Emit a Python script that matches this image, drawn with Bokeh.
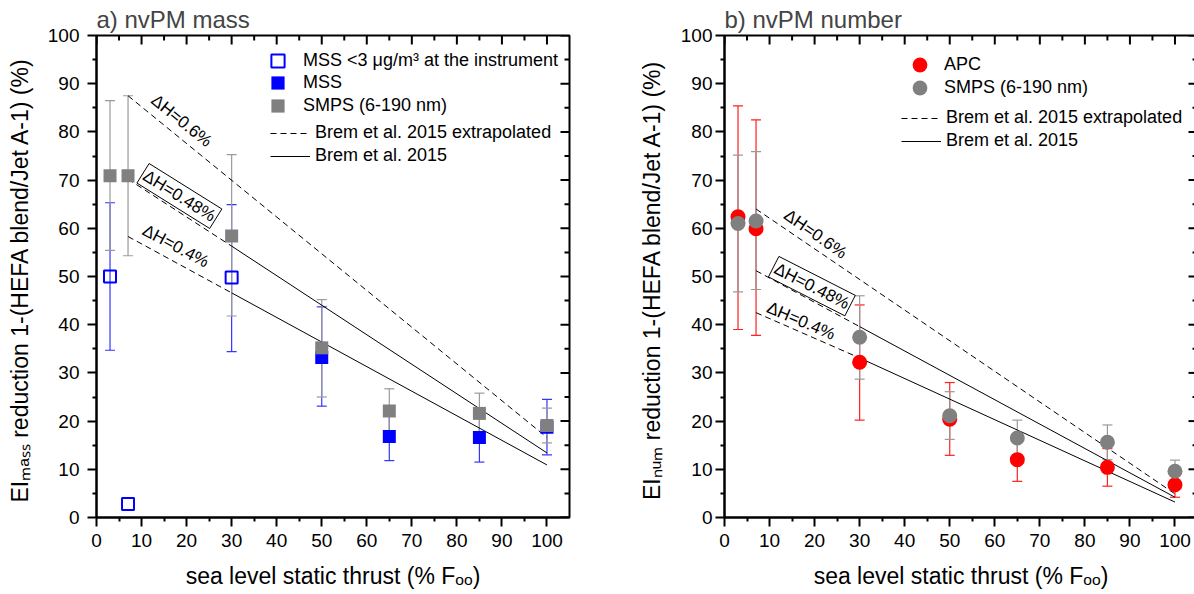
from bokeh.plotting import figure
from bokeh.models import (ColumnDataSource, Whisker, TeeHead, Legend, LegendItem, Label,
                          Range1d, FixedTicker)
from bokeh.layouts import row
from bokeh.embed import file_html
from bokeh.resources import INLINE

FONT = "Liberation Sans"

# ---------------- data ----------------
thrust = [3, 7, 30, 50, 65, 85, 100]

# panel a) nvPM mass
mss_low_x = [3, 7, 30]
mss_low_y = [50.0, 2.8, 49.8]
mss_low_up = [65.3, None, 64.9]
mss_low_lo = [34.7, None, 34.4]

mss_x = [50, 65, 85, 100]
mss_y = [33.2, 16.8, 16.6, 18.7]
mss_up = [43.7, 21.8, 21.7, 24.5]
mss_lo = [23.1, 11.8, 11.5, 13.0]

smps_mass_y = [70.9, 70.9, 58.4, 35.2, 22.1, 21.6, 19.1]
smps_mass_up = [86.5, 87.5, 75.3, 45.2, 26.7, 25.8, 22.7]
smps_mass_lo = [55.4, 54.3, 41.8, 25.0, 17.3, 17.7, 15.5]

# panel b) nvPM number
apc_y = [62.4, 59.9, 32.2, 20.4, 12.0, 10.4, 6.8]
apc_up = [85.4, 82.5, 44.1, 28.0, 16.5, 14.3, 9.4]
apc_lo = [39.0, 37.8, 20.2, 12.9, 7.5, 6.5, 4.2]

smps_num_y = [61.0, 61.5, 37.4, 21.1, 16.5, 15.6, 9.6]
smps_num_up = [75.2, 75.9, 46.0, 26.1, 20.2, 19.2, 11.9]
smps_num_lo = [46.8, 47.3, 28.7, 16.2, 13.0, 12.0, 7.5]

# Brem et al. 2015 lines (thrust 7, 30, 100)
brem_x = [7, 30, 100]
mass_dh06 = [87.5, None, 16.6]
mass_dh048 = [70.2, 56.3, 13.4]
mass_dh04 = [58.3, 46.6, 10.9]
num_dh06 = [64.0, None, 4.9]
num_dh048 = [51.2, 39.6, 4.2]
num_dh04 = [42.5, 33.1, 3.2]

dh_labels = ["ΔH=0.6%", "ΔH=0.48%", "ΔH=0.4%"]
mass_label_x = [18.9, 18.4, 17.6]
mass_label_y = [82.3, 66.7, 56.3]
num_label_x = [20.2, 19.4, 17.0]
num_label_y = [58.8, 48.0, 40.8]

X_MIN, X_MAX = 0, 105
Y_MIN, Y_MAX = 0, 100
x_ticks = list(range(0, 101, 10))
x_minor = list(range(5, 101, 10))
y_ticks = list(range(0, 101, 10))
y_minor = list(range(5, 100, 10))

# ---------------- helpers ----------------
FRAME_W = 473
FRAME_H = 482


def base_fig(title, ylabel, left_border, right_border, tick_standoff, label_standoff):
    p = figure(frame_width=FRAME_W, frame_height=FRAME_H,
               x_range=Range1d(X_MIN, X_MAX), y_range=Range1d(Y_MIN, Y_MAX),
               output_backend="svg", toolbar_location=None,
               min_border_left=left_border, min_border_right=right_border,
               min_border_top=35, min_border_bottom=76)
    p.grid.visible = False
    p.outline_line_color = "black"
    p.outline_line_width = 2
    p.background_fill_color = "white"
    p.border_fill_color = "white"

    p.title.text = title
    p.title.text_font = FONT
    p.title.text_font_size = "24px"
    p.title.text_font_style = "normal"
    p.title.align = "left"
    p.title.standoff = 5
    p.title.offset = 0

    xt = FixedTicker(ticks=x_ticks, minor_ticks=x_minor)
    yt = FixedTicker(ticks=y_ticks, minor_ticks=y_minor)
    for ax, t in ((p.xaxis[0], xt), (p.yaxis[0], yt)):
        ax.ticker = t
        ax.axis_line_width = 2
        ax.major_tick_line_width = 2
        ax.minor_tick_line_width = 2
        ax.major_tick_out = 9
        ax.major_tick_in = 0
        ax.minor_tick_out = 4
        ax.minor_tick_in = 0
        ax.major_label_text_font = FONT
        ax.major_label_text_font_size = "19px"
        ax.major_label_text_color = "black"
        ax.axis_label_text_font = FONT
        ax.axis_label_text_font_size = "23px"
        ax.axis_label_text_font_style = "normal"
        ax.axis_label_text_color = "black"
    p.xaxis[0].axis_label = "sea level static thrust (% Fₒₒ)"
    p.xaxis[0].major_label_standoff = 7
    p.xaxis[0].axis_label_standoff = 13
    p.yaxis[0].axis_label = ylabel
    p.yaxis[0].major_label_standoff = tick_standoff
    p.yaxis[0].axis_label_standoff = label_standoff

    # mirrored inward ticks on top and right edges (clipped to the frame)
    p.scatter(x_ticks, [Y_MAX] * len(x_ticks), marker="dash", angle=90,
              angle_units="deg", size=18, line_color="black", line_width=2)
    p.scatter(x_minor, [Y_MAX] * len(x_minor), marker="dash", angle=90,
              angle_units="deg", size=10, line_color="black", line_width=2)
    p.scatter([X_MAX] * len(y_ticks), y_ticks, marker="dash", size=18,
              line_color="black", line_width=2)
    p.scatter([X_MAX] * len(y_minor), y_minor, marker="dash", size=10,
              line_color="black", line_width=2)
    return p


def add_whisker(p, xs, ups, los, color):
    rows = [(x, u, l) for x, u, l in zip(xs, ups, los) if u is not None and l is not None]
    src = ColumnDataSource(dict(x=[r[0] for r in rows], upper=[r[1] for r in rows],
                                lower=[r[2] for r in rows]))
    w = Whisker(base="x", upper="upper", lower="lower", source=src,
                dimension="height", line_color=color, line_width=1.2,
                upper_head=TeeHead(size=10, line_color=color, line_width=1.2),
                lower_head=TeeHead(size=10, line_color=color, line_width=1.2),
                level="underlay")
    p.add_layout(w)


def add_brem(p, ys):
    r_dash = r_solid = None
    for y in ys:
        if y[1] is None:
            r = p.line([brem_x[0], brem_x[2]], [y[0], y[2]], line_color="black",
                       line_width=1, line_dash="6 4")
            r_dash = r
        else:
            r = p.line(brem_x[:2], y[:2], line_color="black", line_width=1, line_dash="6 4")
            r_dash = r_dash or r
            r_solid = p.line(brem_x[1:], y[1:], line_color="black", line_width=1)
    return r_dash, r_solid


def add_dh_labels(p, xs, ys, angles):
    for i, (t, x, y, a) in enumerate(zip(dh_labels, xs, ys, angles)):
        kw = {}
        if i == 1:
            kw = dict(border_line_color="black", border_line_width=1, padding=2)
        p.add_layout(Label(x=x, y=y, text=t, angle=-a, angle_units="deg",
                           text_align="center", text_baseline="middle",
                           text_font=FONT, text_font_size="17px", text_color="black", **kw))


def make_legend(p, items, loc, gw, gh, spacing, standoff):
    leg = Legend(items=items, location=loc, orientation="vertical",
                 glyph_width=gw, glyph_height=gh, label_height=20,
                 spacing=spacing, label_standoff=standoff, padding=0, margin=0,
                 border_line_color=None, background_fill_alpha=0,
                 label_text_font=FONT, label_text_font_size="18px",
                 label_text_color="black")
    p.add_layout(leg)


# ---------------- panel a ----------------
p1 = base_fig("a) nvPM mass", "EIₘₐₛₛ reduction  1-(HEFA blend/Jet A-1) (%)",
              96, 66, 8, 12)
add_whisker(p1, mss_low_x, mss_low_up, mss_low_lo, "#3535ff")
add_whisker(p1, mss_x, mss_up, mss_lo, "#3535ff")
add_whisker(p1, thrust, smps_mass_up, smps_mass_lo, "#9a9a9a")
d1, s1 = add_brem(p1, [mass_dh06, mass_dh048, mass_dh04])
r_open = p1.scatter(mss_low_x, mss_low_y, marker="square", size=12, fill_color=None,
                    line_color="#0000ff", line_width=2)
r_mss = p1.scatter(mss_x, mss_y, marker="square", size=13, fill_color="#0000ff",
                   line_color=None)
r_smps1 = p1.scatter(thrust, smps_mass_y, marker="square", size=13, fill_color="#808080",
                     line_color=None)
add_dh_labels(p1, mass_label_x, mass_label_y, [39, 32, 28])

make_legend(p1, [LegendItem(label="MSS <3 μg/m³ at the instrument", renderers=[r_open])],
            (165, 440), 33, 33, 0, 9)
make_legend(p1, [LegendItem(label="MSS", renderers=[r_mss])], (165, 418), 33, 33, 0, 9)
make_legend(p1, [LegendItem(label="SMPS (6-190 nm)", renderers=[r_smps1])],
            (165, 395), 33, 33, 0, 9)
make_legend(p1, [LegendItem(label="Brem et al. 2015 extrapolated", renderers=[d1]),
                 LegendItem(label="Brem et al. 2015", renderers=[s1])],
            (174, 351), 40, 20, 2, 5)

# ---------------- panel b ----------------
p2 = base_fig("b) nvPM number", "EIₙᵤₘ reduction  1-(HEFA blend/Jet A-1) (%)",
              85, 1, 3, 13)
add_whisker(p2, thrust, apc_up, apc_lo, "#ff2020")
add_whisker(p2, thrust, smps_num_up, smps_num_lo, "#9a9a9a")
d2, s2 = add_brem(p2, [num_dh06, num_dh048, num_dh04])
r_apc = p2.scatter(thrust, apc_y, marker="circle", size=15, fill_color="#ff0000",
                   line_color=None)
r_smps2 = p2.scatter(thrust, smps_num_y, marker="circle", size=15, fill_color="#808080",
                     line_color=None)
add_dh_labels(p2, num_label_x, num_label_y, [35, 27, 23])

make_legend(p2, [LegendItem(label="APC", renderers=[r_apc])], (177, 434), 37, 37, 0, 6)
make_legend(p2, [LegendItem(label="SMPS (6-190 nm)", renderers=[r_smps2])],
            (177, 411), 37, 37, 0, 6)
make_legend(p2, [LegendItem(label="Brem et al. 2015 extrapolated", renderers=[d2]),
                 LegendItem(label="Brem et al. 2015", renderers=[s2])],
            (177, 366), 40, 20, 2, 5)

layout = row(p1, p2, spacing=0)
open("out.html", "w").write(file_html(layout, INLINE))
